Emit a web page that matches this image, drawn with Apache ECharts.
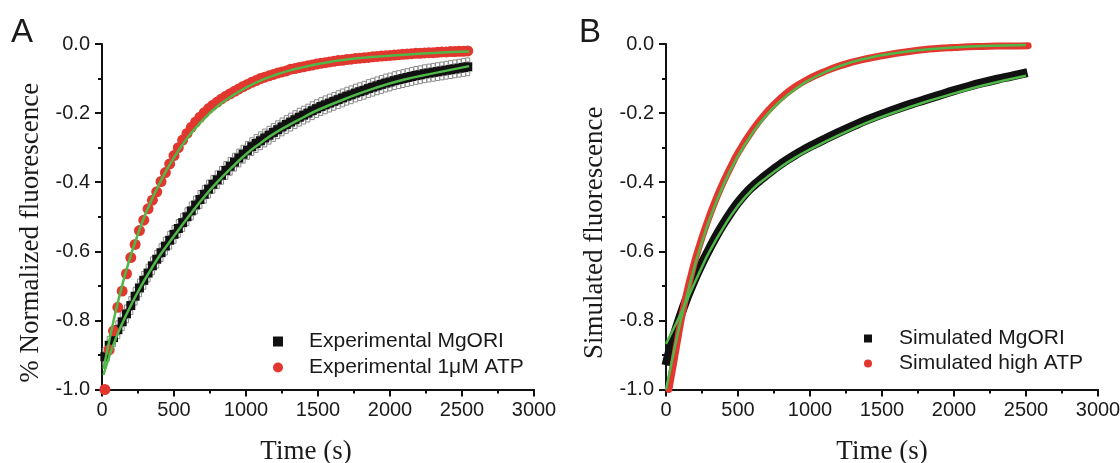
<!DOCTYPE html>
<html>
<head>
<meta charset="utf-8">
<script src="https://cdn.jsdelivr.net/npm/echarts@6/dist/echarts.min.js"></script>
<style>
  html, body { margin: 0; padding: 0; background: #fff; }
  #chart { width: 1120px; height: 463px; }
</style>
</head>
<body>
<div id="chart"></div>
<script>
// ---------- panel A : experimental traces ----------
var timeA = [20,50,80,110,140,170,200,230,260,290,320,350,380,410,440,470,500,530,560,590,
  620,650,680,710,740,770,800,830,860,890,920,950,980,1010,1040,1070,1100,1130,1160,1190,
  1220,1250,1280,1310,1340,1370,1400,1430,1460,1490,1520,1550,1580,1610,1640,1670,1700,1730,1760,1790,
  1820,1850,1880,1910,1940,1970,2000,2030,2060,2090,2120,2150,2180,2210,2240,2270,2300,2330,2360,2390,
  2420,2450,2480,2510,2540];

var mgoriA = [-0.905,-0.872,-0.850,-0.827,-0.804,-0.781,-0.757,-0.730,-0.706,-0.684,-0.663,-0.642,-0.623,-0.604,-0.585,-0.568,-0.551,-0.534,-0.517,-0.500,
  -0.483,-0.466,-0.450,-0.435,-0.420,-0.406,-0.393,-0.380,-0.366,-0.354,-0.342,-0.330,-0.319,-0.308,-0.297,-0.288,-0.280,-0.272,-0.264,-0.256,
  -0.248,-0.240,-0.233,-0.226,-0.219,-0.212,-0.206,-0.200,-0.193,-0.187,-0.181,-0.176,-0.171,-0.166,-0.161,-0.156,-0.151,-0.147,-0.142,-0.138,
  -0.134,-0.129,-0.125,-0.121,-0.117,-0.113,-0.110,-0.106,-0.103,-0.100,-0.097,-0.094,-0.091,-0.089,-0.086,-0.084,-0.082,-0.080,-0.078,-0.076,
  -0.074,-0.072,-0.070,-0.068,-0.066];

var atpA = [-1.000,-0.885,-0.830,-0.762,-0.715,-0.665,-0.618,-0.580,-0.540,-0.510,-0.477,-0.452,-0.428,-0.398,-0.372,-0.347,-0.323,-0.300,-0.278,-0.259,
  -0.241,-0.226,-0.212,-0.199,-0.187,-0.177,-0.168,-0.159,-0.151,-0.144,-0.137,-0.130,-0.123,-0.117,-0.111,-0.106,-0.100,-0.096,-0.092,-0.088,
  -0.084,-0.081,-0.078,-0.073,-0.071,-0.068,-0.066,-0.063,-0.061,-0.058,-0.056,-0.054,-0.052,-0.050,-0.048,-0.047,-0.045,-0.044,-0.042,-0.041,
  -0.040,-0.039,-0.037,-0.036,-0.035,-0.034,-0.033,-0.032,-0.031,-0.030,-0.029,-0.028,-0.027,-0.027,-0.026,-0.025,-0.025,-0.024,-0.023,-0.023,
  -0.022,-0.022,-0.021,-0.021,-0.020];

var errMgoriA = 0.02;   // +/- error on the MgORI trace

var fitTimeA  = [10,50,100,150,200,250,300,400,500,600,700,800,900,1000,1100,1200,1300,1400,1500,1700,1900,2100,2300,2550];
var fitMgoriA = [-0.958,-0.905,-0.848,-0.800,-0.757,-0.717,-0.680,-0.613,-0.556,-0.500,-0.447,-0.400,-0.358,-0.319,-0.287,-0.258,-0.234,-0.212,-0.191,-0.157,-0.127,-0.103,-0.085,-0.064];
var fitAtpA   = [-0.940,-0.860,-0.765,-0.683,-0.612,-0.550,-0.494,-0.403,-0.328,-0.268,-0.220,-0.181,-0.151,-0.126,-0.106,-0.090,-0.077,-0.067,-0.058,-0.045,-0.037,-0.031,-0.026,-0.022];

// ---------- panel B : simulated traces ----------
var timeMgoriB = [0,20,50,100,150,200,250,300,350,400,450,500,550,600,650,700,750,800,850,900,950,1000,
  1100,1200,1300,1400,1500,1600,1700,1800,1900,2000,2100,2200,2300,2400,2510];
var mgoriB = [-0.930,-0.897,-0.852,-0.787,-0.730,-0.680,-0.635,-0.594,-0.555,-0.520,-0.488,-0.459,-0.434,-0.413,-0.395,-0.378,-0.362,-0.347,-0.333,-0.320,-0.308,-0.297,
  -0.276,-0.256,-0.237,-0.219,-0.203,-0.188,-0.174,-0.161,-0.148,-0.135,-0.123,-0.112,-0.102,-0.093,-0.083];

var timeAtpB = [20,50,75,100,125,150,175,200,250,300,350,400,450,500,600,700,800,900,1000,1100,1200,1300,1400,1500,1600,1700,1800,1900,2000,2100,2200,2300,2400,2515];
var atpB = [-1.000,-0.930,-0.870,-0.810,-0.757,-0.710,-0.668,-0.628,-0.560,-0.500,-0.446,-0.398,-0.355,-0.315,-0.250,-0.197,-0.155,-0.123,-0.099,-0.080,-0.064,-0.052,-0.042,-0.034,-0.027,-0.021,-0.016,-0.012,-0.010,-0.008,-0.007,-0.006,-0.006,-0.005];

var fitTimeMgoriB = [0,50,100,150,200,250,300,400,500,600,700,800,900,1000,1200,1400,1600,1800,2000,2200,2500];
var fitMgoriB = [-0.868,-0.826,-0.783,-0.737,-0.690,-0.645,-0.602,-0.530,-0.468,-0.421,-0.386,-0.355,-0.328,-0.305,-0.264,-0.227,-0.196,-0.168,-0.143,-0.120,-0.092];
var fitTimeAtpB = [0,50,100,150,200,250,300,400,500,600,700,800,900,1000,1200,1400,1600,1800,2000,2200,2500];
var fitAtpB   = [-1.000,-0.900,-0.805,-0.720,-0.642,-0.573,-0.511,-0.407,-0.324,-0.258,-0.205,-0.163,-0.130,-0.103,-0.065,-0.041,-0.026,-0.016,-0.010,-0.006,-0.003];

var BLACK = '#111111';
var RED = '#e2372f';
var GREEN = '#4fb848';
var GREY = '#8a8a8a';
var SQUARE = 'path://M0,0L10,0L10,10L0,10Z';

function pairs(xs, ys) {
  return xs.map(function (x, i) { return [x, ys[i]]; });
}

function xAxisOpt(idx, namePad) {
  return {
    gridIndex: idx, type: 'value', min: 0, max: 3000, interval: 500,
    name: 'Time (s)', nameLocation: 'middle', nameGap: 49,
    nameTextStyle: { fontFamily: 'Liberation Serif', fontSize: 27, color: '#1a1a1a', padding: namePad },
    axisLine: { onZero: false, lineStyle: { color: BLACK, width: 2 } },
    axisTick: { length: 7, lineStyle: { color: BLACK, width: 2 } },
    minorTick: { show: true, splitNumber: 2, length: 4, lineStyle: { color: BLACK, width: 2 } },
    splitLine: { show: false },
    axisLabel: {
      fontFamily: 'Liberation Sans', fontSize: 20, color: '#1a1a1a', margin: 11,
      formatter: function (v) { return String(v); }
    }
  };
}

function yAxisOpt(idx, name) {
  return {
    gridIndex: idx, type: 'value', min: -1, max: 0, interval: 0.2,
    name: name, nameLocation: 'middle', nameGap: 58, nameRotate: 90,
    nameTextStyle: { fontFamily: 'Liberation Serif', fontSize: 27, color: '#1a1a1a', padding: [0, 32, 0, 0] },
    axisLine: { onZero: false, lineStyle: { color: BLACK, width: 2 } },
    axisTick: { length: 7, lineStyle: { color: BLACK, width: 2 } },
    minorTick: { show: true, splitNumber: 2, length: 4, lineStyle: { color: BLACK, width: 2 } },
    splitLine: { show: false },
    axisLabel: {
      fontFamily: 'Liberation Sans', fontSize: 20, color: '#1a1a1a', margin: 12,
      formatter: function (v) { return v.toFixed(1); }
    }
  };
}

function fitLine(idx, xs, ys) {
  return {
    type: 'line', xAxisIndex: idx, yAxisIndex: idx, z: 10,
    data: pairs(xs, ys), smooth: true, showSymbol: false, silent: true,
    lineStyle: { color: GREEN, width: 2.5 }
  };
}

var chart = echarts.init(document.getElementById('chart'));

chart.setOption({
  animation: false,
  backgroundColor: '#fff',
  grid: [
    { left: 102, top: 44, width: 432, height: 345.5, outerBoundsMode: 'none' },
    { left: 666, top: 44, width: 432, height: 345.5, outerBoundsMode: 'none' }
  ],
  xAxis: [xAxisOpt(0, [0, 24, 0, 0]), xAxisOpt(1, 0)],
  yAxis: [yAxisOpt(0, '% Normalized fluorescence'), yAxisOpt(1, 'Simulated fluorescence')],
  legend: [
    {
      left: 273, top: 331, orient: 'vertical', padding: 0,
      itemWidth: 52, itemHeight: 10, itemGap: 5,
      textStyle: { fontFamily: 'Liberation Sans', fontSize: 21, color: '#1a1a1a' },
      data: [
        { name: 'Experimental MgORI', icon: SQUARE, itemStyle: { color: BLACK, opacity: 1 } },
        { name: 'Experimental 1μM ATP', icon: 'circle', itemStyle: { color: RED, opacity: 1 } }
      ]
    },
    {
      left: 864, top: 328, orient: 'vertical', padding: 0,
      itemWidth: 52, itemHeight: 8, itemGap: 4,
      textStyle: { fontFamily: 'Liberation Sans', fontSize: 21, color: '#1a1a1a' },
      data: [
        { name: 'Simulated MgORI', icon: SQUARE, itemStyle: { color: BLACK, opacity: 1 } },
        { name: 'Simulated high ATP', icon: 'circle', itemStyle: { color: RED, opacity: 1 } }
      ]
    }
  ],
  graphic: [
    { type: 'text', left: 11, top: 16, style: { text: 'A', font: '33px "Liberation Sans"', fill: '#1a1a1a' } },
    { type: 'text', left: 579, top: 16, style: { text: 'B', font: '33px "Liberation Sans"', fill: '#1a1a1a' } }
  ],
  series: [
    // error bars of the MgORI trace
    {
      type: 'custom', name: 'errA', xAxisIndex: 0, yAxisIndex: 0, z: 1, silent: true,
      data: pairs(timeA, mgoriA),
      renderItem: function (params, api) {
        var t = api.value(0), v = api.value(1);
        var hi = api.coord([t, v + errMgoriA]);
        var lo = api.coord([t, v - errMgoriA]);
        var s = { stroke: GREY, lineWidth: 1, fill: '#fff' };
        return {
          type: 'group',
          children: [
            { type: 'line', shape: { x1: hi[0], y1: hi[1], x2: lo[0], y2: lo[1] }, style: s },
            { type: 'rect', shape: { x: hi[0] - 2, y: hi[1] - 2, width: 4, height: 4 }, style: s },
            { type: 'rect', shape: { x: lo[0] - 2, y: lo[1] - 2, width: 4, height: 4 }, style: s }
          ]
        };
      }
    },
    {
      type: 'scatter', name: 'Experimental MgORI', xAxisIndex: 0, yAxisIndex: 0, z: 3,
      symbol: 'rect', symbolSize: 9, itemStyle: { color: BLACK, opacity: 1 },
      data: pairs(timeA, mgoriA)
    },
    {
      type: 'scatter', name: 'Experimental 1μM ATP', xAxisIndex: 0, yAxisIndex: 0, z: 4,
      symbol: 'circle', symbolSize: 11, itemStyle: { color: RED, opacity: 1 },
      data: pairs(timeA, atpA)
    },
    fitLine(0, fitTimeA, fitMgoriA),
    fitLine(0, fitTimeA, fitAtpA),

    {
      type: 'line', name: 'Simulated MgORI', xAxisIndex: 1, yAxisIndex: 1, z: 3,
      data: pairs(timeMgoriB, mgoriB), smooth: true, showSymbol: false,
      itemStyle: { color: BLACK }, lineStyle: { color: BLACK, width: 9 }
    },
    {
      type: 'line', name: 'Simulated high ATP', xAxisIndex: 1, yAxisIndex: 1, z: 4,
      data: pairs(timeAtpB, atpB), smooth: true, showSymbol: false,
      itemStyle: { color: RED }, lineStyle: { color: RED, width: 7, cap: 'round' }
    },
    fitLine(1, fitTimeMgoriB, fitMgoriB),
    fitLine(1, fitTimeAtpB, fitAtpB)
  ]
});
</script>
</body>
</html>
